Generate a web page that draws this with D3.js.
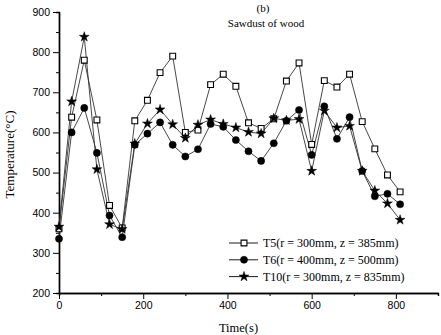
<!DOCTYPE html>
<html>
<head>
<meta charset="utf-8">
<script src="https://cdn.jsdelivr.net/npm/d3@7/dist/d3.min.js"></script>
<style>
  body { margin: 0; background: #fff; }
  svg { display: block; }
</style>
</head>
<body>
<div class="content"></div>
<script>
var times = [0, 30, 60, 90, 120, 150, 180, 210, 240, 270, 300, 330, 360, 390,
             420, 450, 480, 510, 540, 570, 600, 630, 660, 690, 720, 750, 780, 810];
var t5 = [360, 638, 780, 631, 418, 362, 629, 680, 749, 790, 600, 606, 719, 745,
          715, 624, 610, 634, 728, 773, 570, 729, 713, 745, 627, 559, 494, 452];
var t6 = [335, 600, 661, 549, 393, 339, 569, 597, 625, 569, 540, 558, 621, 614,
          581, 553, 529, 573, 629, 656, 544, 665, 584, 638, 504, 441, 447, 421];
var t10 = [365, 677, 838, 508, 371, 359, 572, 622, 657, 620, 586, 619, 632, 621,
           612, 601, 597, 635, 630, 633, 504, 654, 612, 616, 504, 455, 423, 382];
var seriesNames = ['T5(r = 300mm, z = 385mm)', 'T6(r = 400mm, z = 500mm)', 'T10(r = 300mm, z = 835mm)'];
var xTicks = [0, 200, 400, 600, 800];
var yTicks = [200, 300, 400, 500, 600, 700, 800, 900];

var chart = {
    width: 441,
    height: 335,
    left: 59,
    right: 438,
    top: 12,
    bottom: 293,
    serif: '"Liberation Serif", "Times New Roman", serif',
    sans: '"Liberation Sans", Arial, sans-serif'
};

var svg = d3.select('.content').append('svg')
    .attr('width', chart.width)
    .attr('height', chart.height);

var x = d3.scaleLinear().domain([0, 900]).range([chart.left, chart.right]);
var y = d3.scaleLinear().domain([200, 900]).range([chart.bottom, chart.top]);

// minor ticks first, then major axes on top
var minorX = d3.axisBottom(x).tickValues(d3.range(100, 901, 200)).tickSize(3).tickFormat('');
var minorY = d3.axisLeft(y).tickValues(d3.range(250, 900, 100)).tickSize(3).tickFormat('');
svg.append('g').attr('transform', 'translate(0,' + chart.bottom + ')').call(minorX);
svg.append('g').attr('transform', 'translate(' + chart.left + ',0)').call(minorY);

var xAxis = svg.append('g')
    .attr('transform', 'translate(0,' + chart.bottom + ')')
    .call(d3.axisBottom(x).tickValues(xTicks).tickSize(6).tickPadding(3).tickSizeOuter(0));
var yAxis = svg.append('g')
    .attr('transform', 'translate(' + chart.left + ',0)')
    .call(d3.axisLeft(y).tickValues(yTicks).tickSize(6).tickPadding(3).tickSizeOuter(0));

svg.selectAll('.domain').style('stroke', '#000').style('stroke-width', 1.4);
svg.selectAll('.tick line').style('stroke', '#000').style('stroke-width', 1);
svg.selectAll('.tick text')
    .style('font-family', chart.sans)
    .style('font-size', '10.5px')
    .style('fill', '#000');

// series
var seriesData = [t5, t6, t10];
var symbols = [d3.symbolSquare, d3.symbolCircle, d3.symbolStar];
var symbolSizes = [34, 40, 30];
var fills = ['#fff', '#000', '#000'];

var line = d3.line()
    .x(function(d, i) { return x(times[i]); })
    .y(function(d) { return y(d); });

seriesData.forEach(function(vals, s) {
    svg.append('path')
        .attr('d', line(vals))
        .style('fill', 'none')
        .style('stroke', '#333')
        .style('stroke-width', 0.9);
});

seriesData.forEach(function(vals, s) {
    svg.append('g').selectAll('path')
        .data(vals)
        .enter().append('path')
        .attr('transform', function(d, i) { return 'translate(' + x(times[i]) + ',' + y(d) + ')'; })
        .attr('d', d3.symbol().type(symbols[s]).size(symbolSizes[s]))
        .style('fill', fills[s])
        .style('stroke', '#000')
        .style('stroke-width', s === 0 ? 1.1 : 0.5);
});

// legend
var legend = svg.append('g');
seriesNames.forEach(function(name, s) {
    var ly = 243 + s * 16.8;
    legend.append('line')
        .attr('x1', 229).attr('x2', 258)
        .attr('y1', ly).attr('y2', ly)
        .style('stroke', '#000').style('stroke-width', 0.9);
    legend.append('path')
        .attr('transform', 'translate(244,' + ly + ')')
        .attr('d', d3.symbol().type(symbols[s]).size(symbolSizes[s]))
        .style('fill', fills[s])
        .style('stroke', '#000')
        .style('stroke-width', s === 0 ? 1.1 : 0.5);
    legend.append('text')
        .attr('x', 263).attr('y', ly + 4)
        .style('font-family', chart.serif)
        .style('font-size', '12px')
        .text(name);
});

// titles and axis labels
svg.append('text')
    .attr('x', 263).attr('y', 12)
    .attr('text-anchor', 'middle')
    .style('font-family', chart.serif)
    .style('font-size', '11px')
    .text('(b)');
svg.append('text')
    .attr('x', 266).attr('y', 27)
    .attr('text-anchor', 'middle')
    .style('font-family', chart.serif)
    .style('font-size', '11px')
    .text('Sawdust of wood');
svg.append('text')
    .attr('x', x(450) - 10).attr('y', 332)
    .attr('text-anchor', 'middle')
    .style('font-family', chart.serif)
    .style('font-size', '12.5px')
    .text('Time(s)');
svg.append('text')
    .attr('transform', 'translate(14,' + y(545) + ') rotate(-90)')
    .attr('text-anchor', 'middle')
    .style('font-family', chart.serif)
    .style('font-size', '13px')
    .text('Temperature(°C)');
</script>
</body>
</html>
